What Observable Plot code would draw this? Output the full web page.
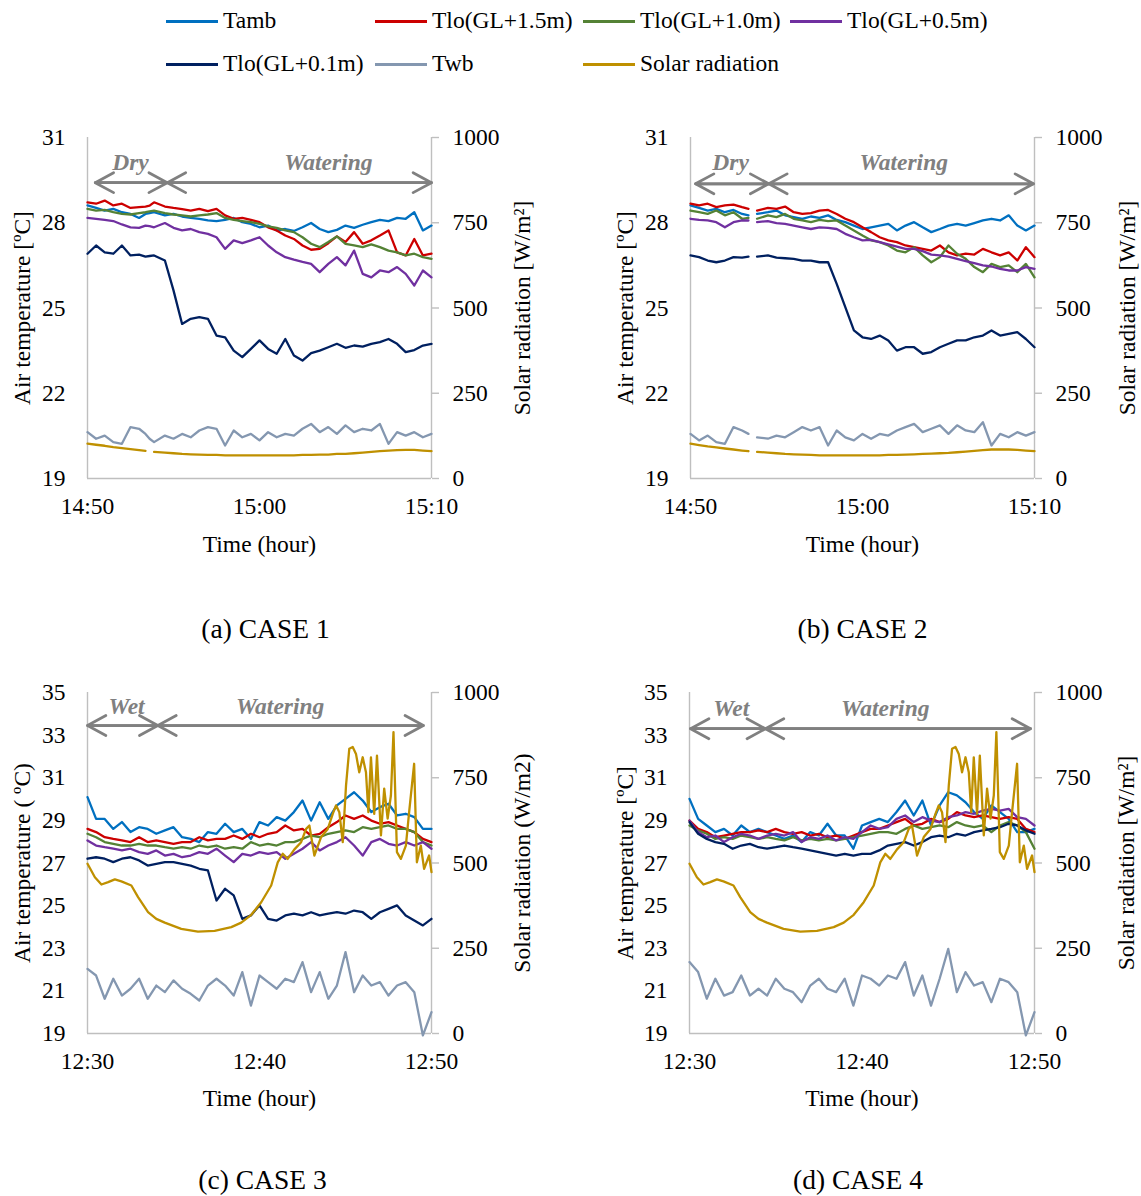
<!DOCTYPE html>
<html>
<head>
<meta charset="utf-8">
<script src="https://cdn.jsdelivr.net/npm/d3@7"></script>
<script src="https://cdn.jsdelivr.net/npm/@observablehq/plot@0.6"></script>
<style>
  html, body { margin: 0; padding: 0; background: #fff; }
  #fig { position: relative; width: 1141px; height: 1196px; overflow: hidden;
         font-family: "Liberation Serif", "Times New Roman", serif; color: #000; }
  .panel { position: absolute; }
  .leg-line { position: absolute; height: 3px; width: 52px; }
  .leg-text { position: absolute; font-size: 23.5px; line-height: 1; white-space: nowrap; }
</style>
</head>
<body>
<div id="fig"></div>
<script>
// ---------------- DATA ----------------
const seriesNames = ["Tamb", "Tlo(GL+1.5m)", "Tlo(GL+1.0m)", "Tlo(GL+0.5m)", "Tlo(GL+0.1m)", "Twb", "Solar radiation"];
const seriesColors = ["#0070C0", "#CC0000", "#548235", "#7030A0", "#002060", "#8497B0", "#BF9000"];

const tempTicksAB = [19, 22, 25, 28, 31];
const tempTicksCD = [19, 21, 23, 25, 27, 29, 31, 33, 35];
const solarTicks = [0, 250, 500, 750, 1000];
const timeLabelsAB = ["14:50", "15:00", "15:10"];
const timeLabelsCD = ["12:30", "12:40", "12:50"];

// minutes after 14:50 (cases 1 and 2); the logger stopped briefly between the dry and watering phases
const timeAB = [0,0.5,1,1.5,2,2.5,3,3.37,3.61,3.87,4.5,5,5.5,6,6.5,7,7.5,8,8.5,9,9.5,10,10.5,11,11.5,12,12.5,13,13.5,14,14.5,15,15.5,16,16.5,17,17.5,18,18.5,19,19.5,20];
// minutes after 12:30 (cases 3 and 4)
const timeCD = [0,0.5,1,1.5,2,2.5,3,3.5,4,4.5,5,5.5,6,6.5,7,7.5,8,8.5,9,9.5,10,10.5,11,11.5,12,12.5,13,13.5,14,14.5,15,15.5,16,16.5,17,17.5,18,18.5,19,19.5,20];

// CASE 1
const tambA  = [28.61,28.52,28.43,28.49,28.37,28.31,28.17,28.31,28.34,28.37,28.26,28.31,28.22,28.17,28.14,28.08,28.06,28.10,28.17,28.02,27.96,27.84,27.90,27.73,27.78,27.71,27.84,27.99,27.78,27.67,27.75,27.90,27.82,27.93,28.02,28.10,28.06,28.17,28.14,28.37,27.73,27.90];
const tlo15A = [28.72,28.67,28.78,28.61,28.67,28.52,28.55,28.57,28.60,28.72,28.57,28.52,28.48,28.43,28.49,28.41,28.49,28.26,28.14,28.17,28.10,28.02,27.84,27.73,27.55,27.43,27.20,27.05,27.08,27.28,27.52,27.32,27.67,27.26,27.38,27.55,27.73,26.96,26.85,27.43,26.85,26.91];
const tlo10A = [28.49,28.43,28.45,28.37,28.31,28.29,28.34,28.37,28.40,28.43,28.34,28.29,28.26,28.22,28.26,28.29,28.34,28.17,28.10,28.06,28.02,27.96,27.87,27.82,27.73,27.67,27.49,27.26,27.14,27.32,27.52,27.26,27.20,27.14,27.24,27.14,27.02,26.96,26.85,26.91,26.79,26.73];
const tlo05A = [28.17,28.14,28.10,28.06,27.94,27.84,27.82,27.90,27.88,27.84,27.99,27.82,27.73,27.78,27.67,27.61,27.49,27.08,27.38,27.28,27.38,27.49,27.20,26.96,26.79,26.70,26.62,26.55,26.26,26.55,26.79,26.50,27.02,26.20,26.08,26.32,26.26,26.44,26.20,25.79,26.32,26.08];
const tlo01A = [26.91,27.20,26.96,26.91,27.20,26.85,26.88,26.81,26.83,26.85,26.67,25.62,24.44,24.62,24.68,24.62,24.03,23.97,23.50,23.27,23.56,23.86,23.56,23.39,23.91,23.33,23.15,23.41,23.50,23.62,23.74,23.60,23.68,23.64,23.74,23.80,23.91,23.74,23.45,23.52,23.68,23.74];
const twbA   = [20.63,20.40,20.51,20.28,20.22,20.81,20.75,20.57,20.40,20.28,20.51,20.40,20.57,20.45,20.69,20.81,20.75,20.16,20.69,20.45,20.57,20.34,20.63,20.45,20.57,20.51,20.75,20.92,20.63,20.81,20.57,20.87,20.63,20.75,20.69,20.92,20.22,20.63,20.51,20.63,20.45,20.57];
const solarA = [102,99,96,92,89,86,83,81,null,78,76,74,72,71,70,69,69,68,68,68,68,68,68,68,68,68,69,69,70,70,72,72,74,76,78,80,82,83,84,84,82,80];

// CASE 2
const tambB  = [28.61,28.52,28.43,28.49,28.37,28.45,28.31,28.26,null,28.31,28.37,28.43,28.26,28.20,28.14,28.22,28.17,28.26,28.10,28.02,27.90,27.78,27.84,27.90,27.96,27.73,27.90,28.02,27.84,27.67,27.78,27.90,27.96,27.90,27.99,28.08,28.14,28.08,28.26,27.90,27.73,27.90];
const tlo15B = [28.67,28.61,28.67,28.55,28.61,28.64,28.55,28.49,null,28.43,28.52,28.49,28.57,28.37,28.31,28.34,28.43,28.45,28.31,28.14,28.02,27.84,27.67,27.49,27.38,27.32,27.20,27.14,27.08,27.02,27.20,26.96,26.85,26.91,26.88,27.08,26.96,26.85,26.96,26.67,27.14,26.79];
const tlo10B = [28.43,28.37,28.31,28.43,28.26,28.37,28.14,28.17,null,28.14,28.26,28.20,28.31,28.14,28.08,28.02,28.10,28.06,28.08,27.90,27.73,27.55,27.38,27.32,27.20,27.02,26.96,27.14,26.85,26.61,26.79,27.20,26.91,26.73,26.44,26.26,26.55,26.44,26.50,26.26,26.55,26.08];
const tlo05B = [28.14,28.10,28.08,28.02,27.84,28.02,28.08,28.08,null,28.02,28.06,27.99,27.96,27.90,27.84,27.78,27.84,27.82,27.78,27.61,27.49,27.38,27.40,27.32,27.24,27.16,27.08,27.08,27.00,26.88,26.85,26.81,26.73,26.65,26.58,26.50,26.46,26.38,26.32,26.32,26.44,26.38];
const tlo01B = [26.85,26.79,26.67,26.61,26.67,26.79,26.77,26.81,null,26.81,26.85,26.77,26.75,26.73,26.67,26.67,26.61,26.61,25.85,25.03,24.21,23.97,23.91,24.03,23.86,23.50,23.62,23.62,23.39,23.45,23.62,23.74,23.86,23.86,23.97,24.03,24.21,24.03,24.09,24.15,23.91,23.62];
const twbB   = [20.57,20.34,20.51,20.28,20.22,20.81,20.69,20.57,null,20.45,20.40,20.51,20.45,20.63,20.81,20.69,20.81,20.16,20.69,20.45,20.34,20.57,20.40,20.57,20.51,20.69,20.81,20.92,20.63,20.75,20.87,20.57,20.87,20.69,20.63,20.98,20.16,20.57,20.45,20.63,20.51,20.63];
const solarB = [102,98,94,91,88,85,82,80,null,78,76,74,72,71,70,69,68,68,68,68,68,68,68,68,69,69,70,71,72,73,74,75,77,79,81,83,85,85,85,84,82,80];

// CASE 3
const tambC  = [30.09,29.07,29.07,28.60,28.92,28.45,28.68,28.60,28.37,28.53,28.68,28.21,28.13,27.98,28.45,28.37,28.84,28.45,28.60,28.13,28.92,28.76,29.15,28.99,29.39,29.93,28.99,29.85,29.07,29.70,30.01,30.32,29.93,29.39,29.62,29.78,29.23,29.31,29.15,28.60,28.60];
const tlo15C = [28.60,28.45,28.21,28.13,28.06,27.98,28.21,27.98,28.06,27.98,27.90,27.98,27.98,28.21,28.06,28.13,28.13,28.29,28.13,28.37,28.21,28.37,28.45,28.76,28.53,28.60,28.29,28.37,28.68,28.92,29.23,29.07,29.23,28.99,28.84,28.92,28.76,28.60,28.45,28.13,27.98];
const tlo10C = [28.37,28.21,27.98,27.90,27.82,27.82,27.90,27.82,27.82,27.74,27.67,27.74,27.67,27.82,27.74,27.82,27.67,27.74,27.67,27.98,27.82,27.90,27.82,27.98,27.98,28.13,28.29,28.21,28.37,28.45,28.53,28.45,28.68,28.60,28.68,28.76,28.60,28.60,28.45,27.98,27.82];
const tlo05C = [28.06,27.82,27.74,27.67,27.59,27.67,27.51,27.43,27.59,27.35,27.43,27.27,27.35,27.51,27.43,27.67,27.35,27.04,27.43,27.35,27.51,27.43,27.51,27.20,27.43,27.67,27.98,27.59,27.82,27.98,28.21,27.82,27.35,27.98,28.13,27.90,27.82,27.98,27.82,27.98,27.67];
const tlo01C = [27.20,27.27,27.20,27.04,27.20,27.27,27.12,26.88,26.96,27.04,27.04,26.96,26.88,26.73,26.65,25.24,25.79,25.48,24.38,24.54,25.01,24.38,24.30,24.54,24.62,24.54,24.69,24.54,24.62,24.69,24.62,24.77,24.69,24.38,24.69,24.85,25.01,24.54,24.30,24.07,24.38];
const twbC   = [22.03,21.72,20.63,21.57,20.78,21.10,21.57,20.63,21.25,20.94,21.49,21.10,20.86,20.55,21.25,21.57,21.25,20.78,21.88,20.31,21.72,21.41,21.10,21.57,21.41,22.35,20.94,21.88,20.63,21.25,22.82,20.94,21.72,21.25,21.41,20.78,21.25,21.41,20.94,18.91,20.00];
const solarTimeC = [0,0.43,0.81,1.2,1.59,1.97,2.55,2.94,3.52,4.0,4.49,5.45,6.42,7.39,8.36,8.94,9.52,10.1,10.68,11.06,11.35,11.64,12.03,12.42,12.71,12.9,13.19,13.58,13.97,14.26,14.45,14.64,14.84,15.03,15.22,15.42,15.61,15.8,16.0,16.19,16.33,16.48,16.67,16.83,17.06,17.25,17.45,17.64,17.79,17.99,18.22,18.51,18.7,18.99,19.15,19.38,19.57,19.86,20.0];
const solarC = [498,458,437,444,452,446,434,400,356,336,325,307,299,301,312,325,348,385,434,502,527,512,540,561,600,610,522,576,600,644,669,649,561,727,835,840,820,766,810,766,649,810,644,815,581,718,630,698,884,532,512,551,649,791,502,551,483,522,473];

// CASE 4
const tambD  = [30.01,29.07,28.76,28.45,28.60,28.29,28.76,28.45,28.60,28.45,28.29,28.13,28.29,27.98,28.45,28.29,28.84,28.29,28.29,27.67,28.76,28.92,29.07,28.92,29.39,29.93,29.23,29.93,28.76,29.70,30.32,30.17,29.85,29.39,29.07,29.70,29.39,29.07,28.45,28.45,28.60];
const tlo15D = [28.99,28.60,28.45,28.21,28.29,28.37,28.45,28.45,28.53,28.45,28.60,28.45,28.37,28.45,28.29,28.37,28.21,28.29,28.13,28.29,28.45,28.60,28.60,28.76,28.92,29.07,28.76,28.84,29.07,28.92,29.07,29.39,29.23,29.15,29.23,29.15,29.07,29.15,29.07,28.60,28.45];
const tlo10D = [28.76,28.53,28.37,28.13,28.21,28.13,28.29,28.21,28.13,28.21,28.13,28.06,28.21,28.06,28.13,28.06,28.13,28.06,28.13,28.21,28.29,28.37,28.45,28.45,28.37,28.60,28.76,28.60,28.68,28.76,28.68,28.92,28.76,28.68,28.76,28.45,28.76,28.92,28.76,28.45,27.67];
const tlo05D = [28.99,28.45,28.21,28.29,27.98,28.21,28.37,28.29,28.13,28.29,28.37,28.29,28.45,27.98,28.21,28.13,28.29,28.06,28.21,28.13,28.45,28.76,28.60,28.68,29.07,29.23,28.92,29.15,28.99,28.92,29.15,29.23,29.39,29.31,29.46,29.54,29.46,29.54,29.15,29.07,28.76];
const tlo01D = [28.92,28.37,28.13,27.98,27.90,27.67,27.82,27.90,27.74,27.67,27.74,27.82,27.74,27.67,27.59,27.51,27.43,27.35,27.43,27.35,27.43,27.43,27.59,27.82,27.90,27.98,27.82,27.98,28.21,28.29,28.21,28.37,28.29,28.45,28.53,28.60,28.68,28.84,28.76,28.53,28.37];
const twbD   = [22.35,21.88,20.63,21.57,20.78,20.94,21.72,20.78,21.10,20.78,21.57,21.10,20.94,20.47,21.25,21.57,21.10,20.94,21.57,20.31,21.72,21.57,21.25,21.72,21.57,22.35,20.78,21.72,20.31,21.57,22.97,20.94,21.88,21.25,21.41,20.47,21.57,21.41,20.94,18.91,20.00];
const solarTimeD = [0,0.43,0.81,1.2,1.59,1.97,2.55,2.94,3.52,4.0,4.49,5.45,6.42,7.39,8.36,8.94,9.52,10.1,10.68,11.06,11.35,11.64,12.03,12.42,12.71,12.9,13.19,13.58,13.97,14.26,14.45,14.64,14.84,15.03,15.22,15.42,15.61,15.8,16.0,16.19,16.33,16.48,16.67,16.83,17.06,17.25,17.45,17.64,17.79,17.99,18.22,18.51,18.7,18.99,19.15,19.38,19.57,19.86,20.0];
const solarD = [498,458,437,444,452,446,434,400,356,336,325,307,299,301,312,325,348,385,434,502,527,512,540,561,600,610,522,576,600,644,669,649,561,727,835,840,820,766,810,766,649,810,644,815,581,718,630,698,884,532,512,551,649,791,502,551,483,522,473];

// experiment phases (labels and boundaries in minutes)
const phaseLabelsAB = ["Dry", "Watering"];
const phaseLabelsCD = ["Wet", "Watering"];
const phaseBoundsA = [0.45, 4.64, 20];
const phaseBoundsB = [0.29, 4.55, 19.94];
const phaseBoundsC = [0, 4.09, 19.53];
const phaseBoundsD = [0.06, 4.4, 19.77];

// ---------------- LAYOUT / STYLE ----------------
const FONT = "'Liberation Serif', 'Times New Roman', serif";
const axisColor = "#BFBFBF";
const annColor = "#808080";

const panels = [
  {left: 0, top: 100, width: 570, height: 560, mT: 37, mR: 139, mB: 182, mL: 87,
   yDomain: [19, 31], yTicks: tempTicksAB, xLabels: timeLabelsAB, time: timeAB,
   temps: [tambA, tlo15A, tlo10A, tlo05A, tlo01A, twbA], solarTime: timeAB, solar: solarA,
   yTitle: "Air temperature [ºC]", rTitle: "Solar radiation [W/m²]", caption: "(a) CASE 1",
   labels: phaseLabelsAB, bounds: phaseBoundsA, arrowY: 29.41, textY: 29.87, textX: [2.5, 14.0],
   lDx: -65, rDx: 91, capDx: 6, timeDy: 73, capDy: 159},
  {left: 570, top: 100, width: 571, height: 560, mT: 37, mR: 107, mB: 182, mL: 120,
   yDomain: [19, 31], yTicks: tempTicksAB, xLabels: timeLabelsAB, time: timeAB,
   temps: [tambB, tlo15B, tlo10B, tlo05B, tlo01B, twbB], solarTime: timeAB, solar: solarB,
   yTitle: "Air temperature [ºC]", rTitle: "Solar radiation [W/m²]", caption: "(b) CASE 2",
   labels: phaseLabelsAB, bounds: phaseBoundsB, arrowY: 29.37, textY: 29.84, textX: [2.33, 12.4],
   lDx: -65, rDx: 93, capDx: 0, timeDy: 73, capDy: 159},
  {left: 0, top: 655, width: 570, height: 541, mT: 37, mR: 139, mB: 163, mL: 87,
   yDomain: [19, 35], yTicks: tempTicksCD, xLabels: timeLabelsCD, time: timeCD,
   temps: [tambC, tlo15C, tlo10C, tlo05C, tlo01C, twbC], solarTime: solarTimeC, solar: solarC,
   yTitle: "Air temperature ( ºC)", rTitle: "Solar radiation (W/m2)", caption: "(c) CASE 3",
   labels: phaseLabelsCD, bounds: phaseBoundsC, arrowY: 33.45, textY: 34.0, textX: [2.27, 11.2],
   lDx: -65, rDx: 91, capDx: 3, timeDy: 72, capDy: 155},
  {left: 570, top: 655, width: 571, height: 541, mT: 37, mR: 107, mB: 163, mL: 119,
   yDomain: [19, 35], yTicks: tempTicksCD, xLabels: timeLabelsCD, time: timeCD,
   temps: [tambD, tlo15D, tlo10D, tlo05D, tlo01D, twbD], solarTime: solarTimeD, solar: solarD,
   yTitle: "Air temperature [ºC]", rTitle: "Solar radiation [W/m²]", caption: "(d) CASE 4",
   labels: phaseLabelsCD, bounds: phaseBoundsD, arrowY: 33.30, textY: 33.9, textX: [2.42, 11.35],
   lDx: -64, rDx: 92, capDx: -4, timeDy: 72, capDy: 155}
];

const fig = document.getElementById("fig");

// ---------------- LEGEND ----------------
const legendCols = [166, 375, 583, 790];
const legendRows = [21, 64];
const legendSlots = [[0,0],[0,1],[0,2],[0,3],[1,0],[1,1],[1,2]];
seriesNames.forEach((name, i) => {
  const [r, c] = legendSlots[i];
  const line = document.createElement("div");
  line.className = "leg-line";
  line.style.left = legendCols[c] + "px";
  line.style.top = (legendRows[r] - 1.5) + "px";
  line.style.background = seriesColors[i];
  fig.appendChild(line);
  const txt = document.createElement("div");
  txt.className = "leg-text";
  txt.style.left = (legendCols[c] + 57) + "px";
  txt.style.top = (legendRows[r] + 8 - 19.7) + "px";
  txt.textContent = name;
  fig.appendChild(txt);
});

// ---------------- PANELS ----------------
panels.forEach(p => {
  const s2t = d3.scaleLinear([0, 1000], p.yDomain);
  const phases = p.labels.map((label, i) => ({label, start: p.bounds[i], end: p.bounds[i + 1], tx: p.textX[i]}));
  const marks = [
    Plot.ruleX([0, 20], {stroke: axisColor, strokeWidth: 1.4}),
    Plot.ruleY([p.yDomain[0]], {stroke: axisColor, strokeWidth: 1.4}),
    Plot.axisY({anchor: "left", ticks: p.yTicks, tickSize: 0, tickPadding: 22, label: null, tickFormat: d => String(d)}),
    Plot.axisY({anchor: "right", ticks: solarTicks.map(s => s2t(s)), tickSize: 7, tickPadding: 14, label: null,
                stroke: axisColor, strokeWidth: 1.4, fill: "black",
                tickFormat: d => String(Math.round(s2t.invert(d)))}),
    Plot.axisX({anchor: "bottom", ticks: [0, 10, 20], tickSize: 0, tickPadding: 19, label: null,
                tickFormat: d => p.xLabels[Math.round(d / 10)]})
  ];
  p.temps.forEach((vals, i) => {
    marks.push(Plot.line(p.time.map((t, j) => ({t, v: vals[j]})),
      {x: "t", y: "v", stroke: seriesColors[i], strokeWidth: 2.3}));
  });
  marks.push(Plot.line(p.solarTime.map((t, j) => ({t, v: p.solar[j] == null ? null : s2t(p.solar[j])})),
    {x: "t", y: "v", stroke: seriesColors[6], strokeWidth: 2.3}));
  // phase arrows (double-headed) and labels
  const arrowOpts = {y1: () => p.arrowY, y2: () => p.arrowY, stroke: annColor, strokeWidth: 2.75, headLength: 11.4, headAngle: 57};
  marks.push(Plot.arrow(phases, {...arrowOpts, x1: "end", x2: "start"}));
  marks.push(Plot.arrow(phases, {...arrowOpts, x1: "start", x2: "end"}));
  marks.push(Plot.text(phases, {x: "tx", y: () => p.textY, text: "label", lineAnchor: "bottom",
    fontWeight: "bold", fontStyle: "italic", fill: annColor, fontSize: 23.5}));
  // titles
  marks.push(Plot.text([p.yTitle], {text: d => d, frameAnchor: "left", textAnchor: "middle", lineAnchor: "middle",
    dx: p.lDx, rotate: -90, fontSize: 23.5}));
  marks.push(Plot.text([p.rTitle], {text: d => d, frameAnchor: "right", textAnchor: "middle", lineAnchor: "middle",
    dx: p.rDx, rotate: -90, fontSize: 23.5}));
  marks.push(Plot.text(["Time (hour)"], {text: d => d, frameAnchor: "bottom", textAnchor: "middle",
    dy: p.timeDy, lineAnchor: "bottom", fontSize: 23.5}));
  marks.push(Plot.text([p.caption], {text: d => d, frameAnchor: "bottom", textAnchor: "middle",
    dx: p.capDx, dy: p.capDy, lineAnchor: "bottom", fontSize: 27.5}));

  const chart = Plot.plot({
    width: p.width, height: p.height,
    marginTop: p.mT, marginRight: p.mR, marginBottom: p.mB, marginLeft: p.mL,
    x: {domain: [0, 20], axis: null},
    y: {domain: p.yDomain, axis: null},
    style: {fontFamily: FONT, fontSize: "23.5px", color: "black", background: "transparent", overflow: "visible"},
    marks
  });
  const wrap = document.createElement("div");
  wrap.className = "panel";
  wrap.style.left = p.left + "px";
  wrap.style.top = p.top + "px";
  wrap.appendChild(chart);
  fig.appendChild(wrap);
});
</script>
</body>
</html>
